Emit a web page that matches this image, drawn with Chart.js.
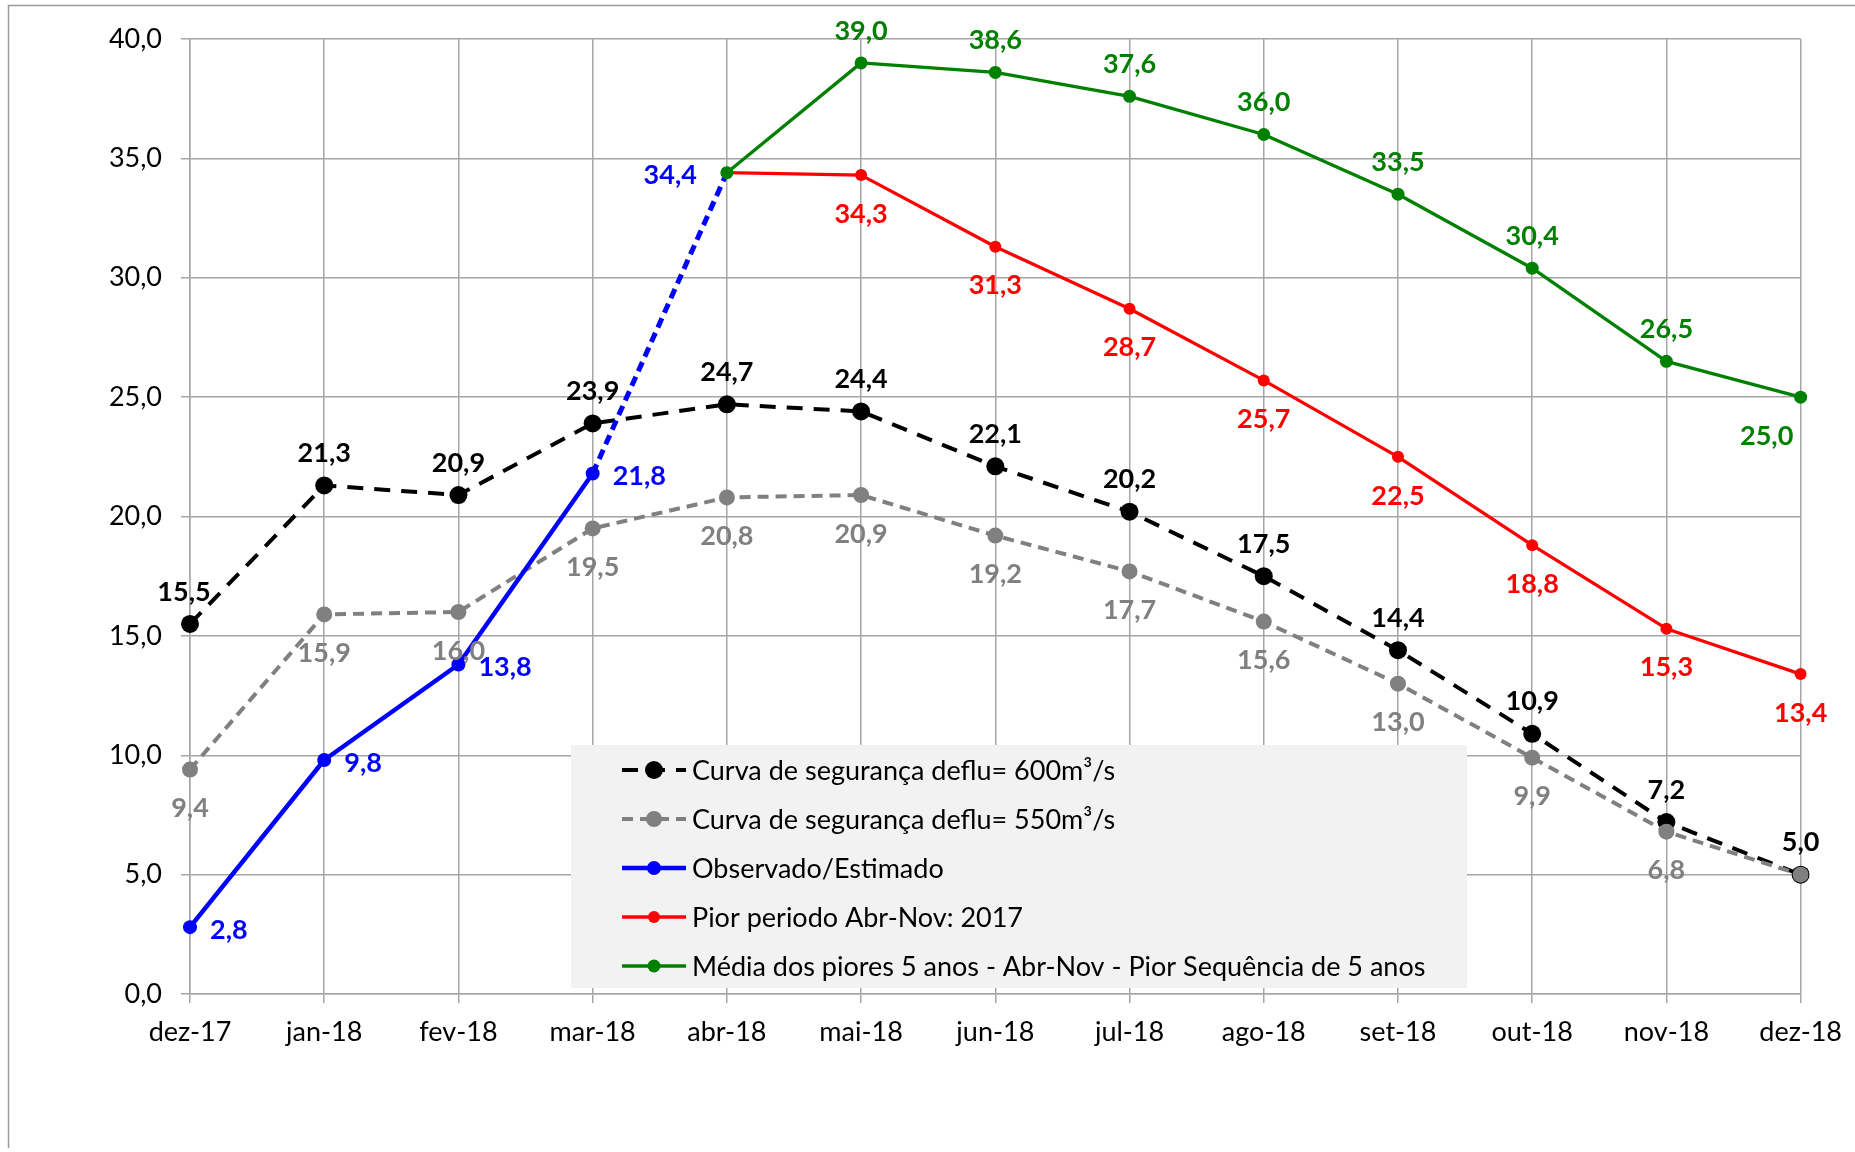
<!DOCTYPE html>
<html><head><meta charset="utf-8">
<script src="https://cdn.jsdelivr.net/npm/chart.js@4.4.1/dist/chart.umd.min.js"></script>
<style>html,body{margin:0;padding:0;background:#fff;} #wrap{width:1855px;height:1152px;position:relative;}</style>
</head><body><div id="wrap"><canvas id="c" width="1855" height="1152"></canvas></div>
<script>
// ---- data ----
const categories = ['dez-17','jan-18','fev-18','mar-18','abr-18','mai-18','jun-18','jul-18','ago-18','set-18','out-18','nov-18','dez-18'];
const curva600 = [15.5,21.3,20.9,23.9,24.7,24.4,22.1,20.2,17.5,14.4,10.9,7.2,5.0];
const curva550 = [9.4,15.9,16.0,19.5,20.8,20.9,19.2,17.7,15.6,13.0,9.9,6.8,5.0];
const observado = [2.8,9.8,13.8,21.8,34.4,null,null,null,null,null,null,null,null];
const pior2017 = [null,null,null,null,34.4,34.3,31.3,28.7,25.7,22.5,18.8,15.3,13.4];
const media5 = [null,null,null,null,34.4,39.0,38.6,37.6,36.0,33.5,30.4,26.5,25.0];
const seriesNames = [
  'Curva de segurança deflu= 600m³/s',
  'Curva de segurança deflu= 550m³/s',
  'Observado/Estimado',
  'Pior periodo Abr-Nov: 2017',
  'Média dos piores 5 anos - Abr-Nov - Pior Sequência de 5 anos'
];
const yMin = 0, yMax = 40, yStep = 5;

// ---- styles ----
const FONT = 'Lato, sans-serif';
const FS = 27;
const GRID = '#a6a6a6';
const fmt = v => Number(v).toFixed(1).replace('.', ',');

const labelStyle = [
  {color:'#000000', pos:'above', skip:[], override:{0:{dx:-6}}},
  {color:'#808080', pos:'below', skip:[12], override:{}},
  {color:'#0000ff', pos:'right', skip:[], override:{4:{pos:'left'}}},
  {color:'#ff0000', pos:'below', skip:[4], override:{}},
  {color:'#008000', pos:'above', skip:[4], override:{12:{pos:'below', dx:-34}}}
];

const frame = {
  id:'frame',
  beforeDraw(chart){
    const c = chart.ctx; c.save();
    c.fillStyle = '#fff'; c.fillRect(0,0,chart.width,chart.height);
    c.strokeStyle = '#9a9a9a'; c.lineWidth = 1.5;
    c.beginPath(); c.moveTo(8.5,1148); c.lineTo(8.5,5.5); c.lineTo(chart.width,5.5); c.stroke();
    c.restore();
  }
};

const dataLabels = {
  id:'dataLabels',
  afterDatasetsDraw(chart){
    const c = chart.ctx; c.save();
    c.font = `bold ${FS}px ${FONT}`; c.textBaseline = 'middle';
    chart.data.datasets.forEach((ds,i)=>{
      const meta = chart.getDatasetMeta(i); const st = labelStyle[i];
      meta.data.forEach((el,j)=>{
        const v = ds.data[j];
        if (v == null || st.skip.includes(j)) return;
        const o = Object.assign({pos:st.pos, dx:0, dy:0}, st.override[j] || {});
        let x = el.x + o.dx, y = el.y + o.dy + 3, align = 'center';
        if (o.pos === 'above') y -= 35;
        else if (o.pos === 'below') y += 36;
        else if (o.pos === 'right') { x += 20; align = 'left'; }
        else { x -= 30; align = 'right'; }
        c.textAlign = align; c.fillStyle = st.color;
        c.fillText(fmt(v), x, y);
      });
    });
    c.restore();
  }
};

const insideLegend = {
  id:'insideLegend',
  afterDraw(chart){
    const c = chart.ctx; c.save();
    const bx = 571, by = 745, bw = 896, bh = 243;
    c.fillStyle = '#f2f2f2'; c.fillRect(bx,by,bw,bh);
    c.font = `${FS}px ${FONT}`; c.textBaseline = 'middle'; c.textAlign = 'left';
    chart.data.datasets.forEach((ds,i)=>{
      const y = 770 + i*49;
      c.strokeStyle = ds.borderColor; c.lineWidth = ds.borderWidth;
      c.setLineDash(ds.borderDash || []);
      c.beginPath(); c.moveTo(622,y); c.lineTo(686,y); c.stroke();
      c.setLineDash([]);
      const r = Array.isArray(ds.pointRadius) ? ds.pointRadius[0] : ds.pointRadius;
      c.fillStyle = ds.pointBackgroundColor;
      c.beginPath(); c.arc(654,y,r,0,Math.PI*2); c.fill();
      c.fillStyle = '#000';
      c.fillText(ds.label, 692, y + 1);
    });
    c.restore();
  }
};

const tickFont = {size:FS, family:FONT};

new Chart(document.getElementById('c'), {
  type:'line',
  data:{
    labels: categories,
    datasets:[
      {label:seriesNames[0], data:curva600, borderColor:'#000000', pointBackgroundColor:'#000000', backgroundColor:'#000000',
       borderWidth:4, borderDash:[16,11], pointRadius:9, pointBorderWidth:0, order:5},
      {label:seriesNames[1], data:curva550, borderColor:'#808080', pointBackgroundColor:'#808080', backgroundColor:'#808080',
       borderWidth:4, borderDash:[11,7], pointRadius:8, pointBorderWidth:0, order:4},
      {label:seriesNames[2], data:observado, borderColor:'#0000ff', pointBackgroundColor:'#0000ff', backgroundColor:'#0000ff',
       borderWidth:4.5, pointRadius:[7,7,7,7,0], pointBorderWidth:0, order:3,
       segment:{borderDash: ctx => ctx.p0DataIndex === 3 ? [10,6] : undefined, borderWidth: ctx => ctx.p0DataIndex === 3 ? 5 : undefined}},
      {label:seriesNames[3], data:pior2017, borderColor:'#ff0000', pointBackgroundColor:'#ff0000', backgroundColor:'#ff0000',
       borderWidth:3.3, pointRadius:6, pointBorderWidth:0, order:2},
      {label:seriesNames[4], data:media5, borderColor:'#008000', pointBackgroundColor:'#008000', backgroundColor:'#008000',
       borderWidth:3.3, pointRadius:6.5, pointBorderWidth:0, order:1}
    ]
  },
  options:{
    responsive:false, animation:false, events:[],
    layout:{padding:{top:39, right:53, left:0, bottom:0}},
    elements:{line:{tension:0, borderJoinStyle:'round'}},
    plugins:{legend:{display:false}, tooltip:{enabled:false}},
    scales:{
      x:{type:'category', offset:false,
         grid:{color:GRID, lineWidth:1.5, tickLength:9, drawTicks:true},
         border:{color:GRID, width:1.5},
         ticks:{color:'#000', font:tickFont, padding:13, maxRotation:0, autoSkip:false},
         afterFit(s){ s.height = 158; }},
      y:{min:yMin, max:yMax,
         grid:{color:GRID, lineWidth:1.5, tickLength:9, drawTicks:true},
         border:{color:GRID, width:1.5},
         ticks:{stepSize:yStep, color:'#000', font:tickFont, padding:19, callback:v=>fmt(v)},
         afterFit(s){ s.width = 190; }}
    }
  },
  plugins:[frame, dataLabels, insideLegend]
});
</script></body></html>
